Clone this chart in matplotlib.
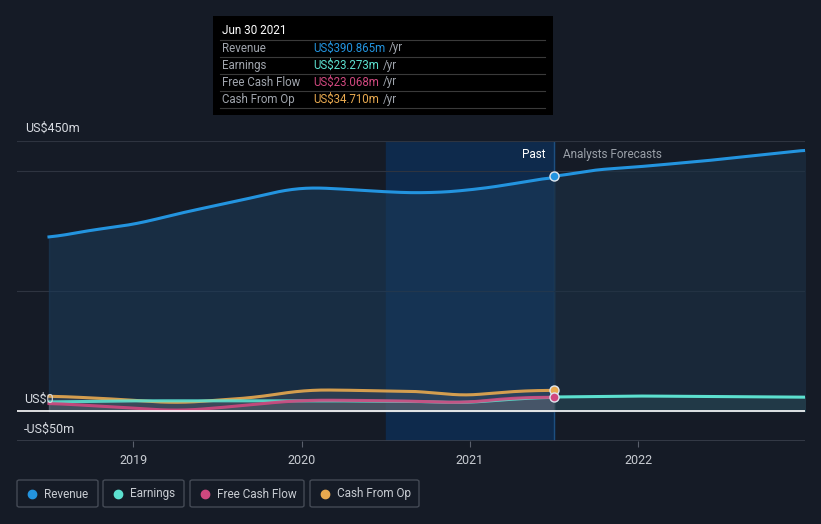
import numpy as np
import matplotlib.pyplot as plt
from matplotlib.patches import FancyBboxPatch, Rectangle

plt.rcParams['font.family'] = ['Roboto', 'DejaVu Sans']

# dates as decimal years
rev_x = [2018.5, 2018.75, 2019.0, 2019.25, 2019.5, 2019.75, 2019.92, 2020.0, 2020.25, 2020.5, 2020.75, 2021.0, 2021.25, 2021.5]
rev_y = [288, 302, 310, 328, 343, 358, 370, 373, 370, 365, 363, 368, 378, 390.865]
rev_fx = [2021.5, 2021.75, 2022.0, 2022.4, 2023.0]
rev_fy = [390.865, 402, 407, 417, 435]

cfo_x = [2018.5, 2018.75, 2019.0, 2019.25, 2019.5, 2019.75, 2020.0, 2020.25, 2020.5, 2020.75, 2020.9, 2021.0, 2021.25, 2021.5]
cfo_y = [25, 22, 18, 13, 18, 23, 35, 35, 33, 33, 25, 26, 33, 34.71]

earn_x = [2018.5, 2018.75, 2019.0, 2019.25, 2019.5, 2019.75, 2020.0, 2020.25, 2020.5, 2020.75, 2020.95, 2021.25, 2021.5]
earn_y = [15, 16, 17, 17, 17, 17, 17, 17, 16, 16, 13, 20, 23.273]
earn_fx = [2021.5, 2022.0, 2022.5, 2023.0]
earn_fy = [23.273, 25, 24, 23]

fcf_x = [2018.5, 2018.75, 2019.0, 2019.15, 2019.25, 2019.5, 2019.75, 2020.0, 2020.25, 2020.5, 2020.75, 2020.95, 2021.25, 2021.5]
fcf_y = [13, 9, 5, 2, 0, 5, 12, 18, 18, 17, 16, 13, 22, 23.068]

bg = '#151b26'
c_rev = '#2394df'
c_earn = '#5ce0cf'
c_fcf = '#d0487f'
c_cfo = '#e8a94f'

W, H = 821, 524
def fx_(px):
    return px / W
def fy_(py):
    return (H - py) / H

fig = plt.figure(figsize=(8.21, 5.24), dpi=100, facecolor=bg)
ax = fig.add_axes([fx_(17), fy_(441), 788/W, 300/H])
ax.set_facecolor(bg)
ax.set_xlim(2018.31, 2022.99)
ax.set_ylim(-50, 450)

def smooth(x, y, n=300):
    xs = np.linspace(x[0], x[-1], n)
    ys = np.interp(xs, x, y)
    k = 15
    pad = np.pad(ys, k, mode='edge')
    ys = np.convolve(pad, np.ones(2*k+1)/(2*k+1), mode='same')[k:-k]
    return xs, ys

# highlight band (last year of past)
ax.axvspan(2020.5, 2021.5, color='#0e2a4c', zorder=0)
ax.axvline(2021.5, color='#1d4f80', lw=1, zorder=1)

# gridlines
for g in [450, 400, 200]:
    ax.axhline(g, color='#2e3440', lw=0.8, zorder=1)
ax.axhline(-50, color='#3a404c', lw=1.2, zorder=1)

xs, ys = smooth(rev_x, rev_y)
ax.fill_between(xs, 0, ys, color='#1b3a58', alpha=0.6, zorder=2)
ax.plot(xs, ys, color=c_rev, lw=2.2, zorder=5)
rx, ry = smooth(rev_fx, rev_fy)
ax.fill_between(rx, 0, ry, color='#1c3246', alpha=0.6, zorder=2)
ax.plot(rx, ry, color=c_rev, lw=2.2, zorder=5)

for x, y, c in [(cfo_x, cfo_y, c_cfo), (earn_x, earn_y, c_earn), (fcf_x, fcf_y, c_fcf)]:
    sx, sy = smooth(x, y)
    ax.fill_between(sx, 0, sy, color='#6a6f78', alpha=0.25, zorder=3)
    ax.plot(sx, sy, color=c, lw=2.2, zorder=6, alpha=0.9)
ex, ey = smooth(earn_fx, earn_fy)
ax.fill_between(ex, 0, ey, color='#2a4a55', alpha=0.5, zorder=3)
ax.plot(ex, ey, color=c_earn, lw=2.2, zorder=6)

ax.axhline(0, color='white', lw=1.2, zorder=7)

for y, c in [(rev_y[-1], c_rev), (cfo_y[-1], c_cfo), (fcf_y[-1], c_fcf)]:
    ax.plot(2021.5, y, 'o', ms=6.5, color=c, mec='#dfe6ee', mew=1, zorder=9)

for s in ax.spines.values():
    s.set_visible(False)
ax.set_yticks([])
ax.set_xticks([2019, 2020, 2021, 2022])
ax.set_xticklabels(['2019', '2020', '2021', '2022'])
ax.tick_params(axis='x', colors='#5a606c', labelcolor='#c8ccd2', labelsize=9, length=4, pad=5)

fig.text(fx_(25), fy_(128), 'US$450m', color='#d8dce2', fontsize=9, va='center')
fig.text(fx_(24), fy_(399), 'US$0', color='#d8dce2', fontsize=9, va='center')
fig.text(fx_(24), fy_(429), '-US$50m', color='#d8dce2', fontsize=9, va='center')
ax.text(2021.45, 428, 'Past', color='white', fontsize=8.5, ha='right', va='center')
ax.text(2021.55, 428, 'Analysts Forecasts', color='#9aa0a8', fontsize=8.5, ha='left', va='center')

# tooltip
fig.patches.append(Rectangle((fx_(213), fy_(115)), 340/W, 99/H, transform=fig.transFigure,
                             facecolor='black', edgecolor='none', zorder=10))
fig.text(fx_(222), fy_(31), 'Jun 30 2021', color='white', fontsize=8.5, va='center', zorder=11)
rows = [('Revenue', 'US$390.865m', c_rev), ('Earnings', 'US$23.273m', c_earn),
        ('Free Cash Flow', 'US$23.068m', c_fcf), ('Cash From Op', 'US$34.710m', c_cfo)]
renderer = fig.canvas.get_renderer()
for i, (lab, val, c) in enumerate(rows):
    yy = fy_(48 + 17 * i)
    fig.text(fx_(222), yy, lab, color='#a0a5ad', fontsize=8.3, va='center', zorder=11)
    t = fig.text(fx_(313), yy, val, color=c, fontsize=8.3, va='center', zorder=11)
    x1 = t.get_window_extent(renderer).x1
    fig.text((x1 + 4) / W, yy, '/yr', color='#a0a5ad', fontsize=8.3, va='center', zorder=11)
    fig.add_artist(plt.Line2D([fx_(220), fx_(545)], [fy_(40 + 17 * i)] * 2, transform=fig.transFigure,
                              color='#3a3a3a', lw=0.8, zorder=11))
fig.add_artist(plt.Line2D([fx_(220), fx_(545)], [fy_(108)] * 2, transform=fig.transFigure,
                          color='#3a3a3a', lw=0.8, zorder=11))

# legend boxes
legend = [('Revenue', c_rev, 17, 98), ('Earnings', c_earn, 103, 184), ('Free Cash Flow', c_fcf, 190, 304),
          ('Cash From Op', c_cfo, 310, 419)]
for lab, c, x0, x1 in legend:
    fig.patches.append(FancyBboxPatch((fx_(x0), fy_(507)), (x1 - x0)/W, 27/H,
                                      boxstyle='round,pad=0,rounding_size=0.003', transform=fig.transFigure,
                                      facecolor='none', edgecolor='#444a55', lw=1))
    fig.add_artist(plt.Line2D([fx_(x0 + 15)], [fy_(494)], marker='o', ms=6, color=c,
                              transform=fig.transFigure))
    fig.text(fx_(x0 + 27), fy_(494), lab, color='#c8ccd2', fontsize=8.5, va='center')

fig.savefig('out.png', dpi=100, facecolor=bg)
